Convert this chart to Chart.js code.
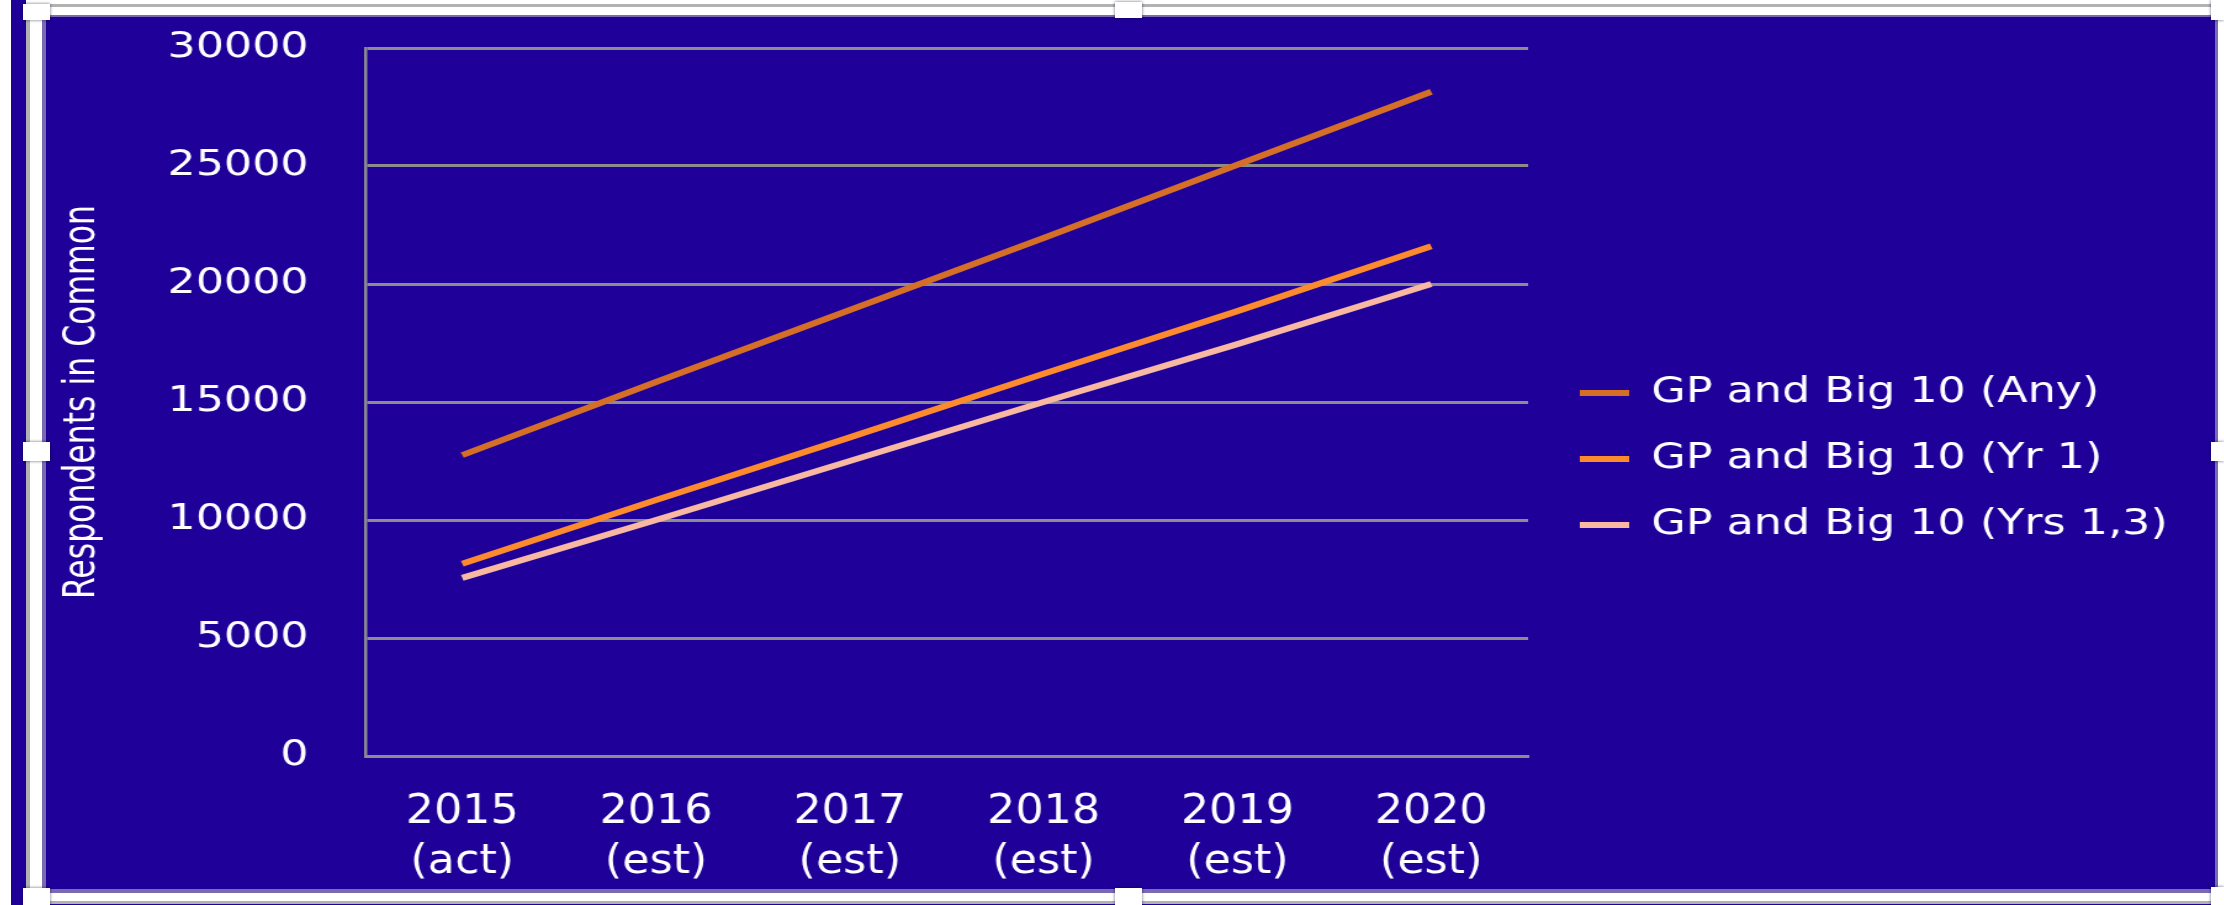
<!DOCTYPE html>
<html>
<head>
<meta charset="utf-8">
<script src="https://cdn.jsdelivr.net/npm/chart.js@4"></script>
<style>
	body { margin: 0; background: #fff; }
	#stage { position: relative; width: 2224px; height: 905px; overflow: hidden; background: #fff; }
	#stage > div { position: absolute; }
	.blue { background: #1f0098; }
	.gray { background: #b2b2b2; }
	.white { background: #fff; }
	.lav { background: #7a6bb0; }
	.handle { background: #fff; box-shadow: 0 0 3px rgba(0, 0, 40, 0.6); }
	/* the original picture is a horizontally stretched bitmap, so the chart is drawn narrow and stretched */
	#wrap { left: 46px; top: 17px; width: 1759px; height: 872px; transform: scaleX(1.233); transform-origin: 0 0; }
</style>
</head>
<body>
<div id="stage">
	<div class="blue" style="left:11px;top:0;width:2204px;height:905px"></div>
	<div class="white" style="left:26px;top:0;width:2198px;height:4px"></div>
	<!-- selection frame -->
	<div class="gray" style="left:26px;top:4px;width:2185px;height:3px"></div>
	<div class="white" style="left:26px;top:7px;width:2185px;height:8px"></div>
	<div class="lav" style="left:42px;top:15px;width:2173px;height:2px"></div>
	<div class="gray" style="left:26px;top:4px;width:4px;height:901px"></div>
	<div class="white" style="left:30px;top:7px;width:12px;height:898px"></div>
	<div class="lav" style="left:42px;top:15px;width:4px;height:874px"></div>
	<div class="lav" style="left:42px;top:889px;width:2173px;height:4px"></div>
	<div class="white" style="left:30px;top:893px;width:2181px;height:8px"></div>
	<div class="gray" style="left:26px;top:901px;width:2185px;height:3px"></div>
	<div class="lav" style="left:2215px;top:15px;width:3px;height:878px"></div>
	<div class="white" style="left:2218px;top:0;width:6px;height:905px"></div>
	<div id="wrap"><canvas id="chart-line"></canvas></div>
	<!-- handles -->
	<div class="handle" style="left:23px;top:4px;width:27px;height:16px"></div>
	<div class="handle" style="left:1115px;top:2px;width:27px;height:16px"></div>
	<div class="handle" style="left:2211px;top:0;width:13px;height:20px"></div>
	<div class="handle" style="left:23px;top:442px;width:27px;height:19px"></div>
	<div class="handle" style="left:2211px;top:442px;width:13px;height:19px"></div>
	<div class="handle" style="left:23px;top:888px;width:27px;height:17px"></div>
	<div class="handle" style="left:1115px;top:888px;width:27px;height:17px"></div>
	<div class="handle" style="left:2211px;top:887px;width:13px;height:18px"></div>
</div>
<script>
	// Chart data
	const YEARS = ["2015", "2016", "2017", "2018", "2019", "2020"];
	const PERIODS = ["(act)", "(est)", "(est)", "(est)", "(est)", "(est)"];
	const ANY = [12750, 15850, 18900, 21950, 25050, 28150];
	const YR_1 = [8150, 10850, 13500, 16200, 18850, 21600];
	const YRS_1_3 = [7550, 10000, 12500, 15000, 17450, 20000];
	const Y_MIN = 0;
	const Y_MAX = 30000;
	const Y_STEP = 5000;

	const GRID = "#8c8c8c";
	const CONDENSED = "DejaVu Sans Condensed";

	Chart.defaults.color = "#fff";

	// legend gets a small box from the layout, then is moved next to the plot and widened
	const legendPlacement = {
		id: "legendPlacement",
		afterLayout(chart) {
			const legend = chart.legend;
			legend.left = chart.chartArea.right + 12;
			legend.right = chart.width;
			legend.width = legend.right - legend.left;
			legend.top = 12;
			legend.bottom = chart.height;
			legend.height = legend.bottom - legend.top;
		},
	};

	const DATA = {
		labels: YEARS.map((y, i) => [y, PERIODS[i]]),
		datasets: [
			{
				label: "GP and Big 10 (Any)",
				data: ANY,
				borderColor: "#d56f27",
				backgroundColor: "#d56f27",
				borderWidth: 6,
			},
			{
				label: "GP and Big 10 (Yr 1)",
				data: YR_1,
				borderColor: "#fd8b2d",
				backgroundColor: "#fd8b2d",
				borderWidth: 6,
			},
			{
				label: "GP and Big 10 (Yrs 1,3)",
				data: YRS_1_3,
				borderColor: "#f9b8a2",
				backgroundColor: "#f9b8a2",
				borderWidth: 6,
			},
		],
	};

	const CONFIG = {
		type: "line",
		data: DATA,
		plugins: [legendPlacement],
		options: {
			responsive: true,
			maintainAspectRatio: false,
			animation: false,
			layout: {
				padding: { left: 0, top: 31, bottom: 0, right: 257 },
			},
			elements: {
				line: { tension: 0 },
				point: { radius: 0, hoverRadius: 0 },
			},
			plugins: {
				legend: {
					position: "right",
					maxWidth: 300,
					labels: {
						color: "#fff",
						font: { family: "DejaVu Sans", size: 36 },
						usePointStyle: true,
						pointStyle: "line",
						pointStyleWidth: 40,
						padding: 30,
					},
				},
				tooltip: { enabled: false },
			},
			scales: {
				x: {
					offset: true,
					grid: { display: false },
					border: { display: true, color: GRID, width: 3 },
					ticks: {
						color: "#fff",
						font: { family: CONDENSED, size: 40, lineHeight: 1.25 },
						padding: 24,
						maxRotation: 0,
						autoSkip: false,
					},
					afterFit(scale) {
						scale.height = 133;
					},
				},
				y: {
					min: Y_MIN,
					max: Y_MAX,
					grid: { color: GRID, lineWidth: 3, drawTicks: false },
					border: { display: true, color: GRID, width: 2.5 },
					ticks: {
						stepSize: Y_STEP,
						color: "#fff",
						font: { family: "DejaVu Sans", size: 36 },
						padding: 46,
						callback: (v) => String(v),
					},
					title: {
						display: true,
						text: "Respondents in Common",
						color: "#fff",
						font: { family: CONDENSED, size: 35 },
						padding: { top: 9, bottom: 0 },
					},
					afterFit(scale) {
						scale.width = 259;
						scale.paddingTop = 0;
						scale.paddingBottom = 0;
					},
				},
			},
		},
	};

	const WRAPPER = document.getElementById("chart-line");
	if (WRAPPER) {
		new Chart(WRAPPER, CONFIG);
	}
</script>
</body>
</html>
